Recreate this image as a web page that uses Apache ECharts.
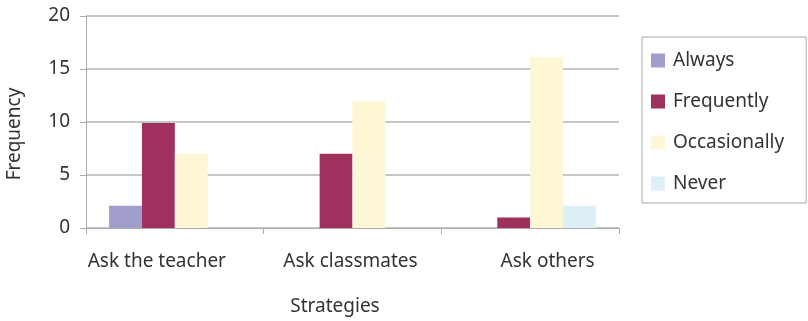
<!DOCTYPE html>
<html><head><meta charset="utf-8">
<script src="https://cdn.jsdelivr.net/npm/echarts@6/dist/echarts.min.js"></script>
<style>html,body{margin:0;padding:0;background:#fff}#c{width:808px;height:321px}</style>
</head><body><div id="c"></div>
<script>
var categories = ['Ask the teacher', 'Ask classmates', 'Ask others'];
var always = [2.1, 0, 0];
var frequently = [9.9, 7, 1];
var occasionally = [7, 12, 16.1];
var never = [0, 0, 2.1];
var seriesNames = ['Always', 'Frequently', 'Occasionally', 'Never'];
var colors = ['#a09fcc', '#a0305e', '#fdf7d5', '#ddeff7'];
var yTicks = [0, 5, 10, 15, 20];

var FONT = 'Noto Sans';
var FS = 19;
var chart = echarts.init(document.getElementById('c'), null, {renderer: 'canvas'});
var labelPads = [[0, 36, 0, 0], [0, 4, 0, 0], [0, 0, 0, 35]];
function mk(name, data, i) {
  return {name: name, type: 'bar', data: data, itemStyle: {color: colors[i]},
    barGap: '0%', barCategoryGap: '26%'};
}
chart.setOption({
  animation: false,
  textStyle: {fontFamily: FONT},
  grid: {left: 86, right: 189, top: 16, bottom: 93},
  legend: {
    orient: 'vertical', left: 642, top: 37,
    data: seriesNames, itemWidth: 14, itemHeight: 14, itemGap: 22,
    icon: 'rect', borderColor: '#aaaaaa', borderWidth: 1,
    padding: [14, 22, 10, 9],
    textStyle: {fontSize: FS, color: '#333', fontFamily: FONT, padding: [0, 0, 0, 3]}
  },
  xAxis: {
    type: 'category',
    data: categories.map(function (c, i) { return {value: c, textStyle: {padding: labelPads[i]}}; }),
    axisLine: {lineStyle: {color: '#aaaaaa', width: 1}},
    axisTick: {show: true, length: 6, interval: 0, lineStyle: {color: '#aaaaaa'}},
    axisLabel: {fontSize: FS, color: '#333', margin: 24, interval: 0, hideOverlap: false, fontFamily: FONT}
  },
  yAxis: {
    type: 'value', min: yTicks[0], max: yTicks[yTicks.length - 1], interval: 5,
    axisLine: {show: true, lineStyle: {color: '#aaaaaa'}},
    axisTick: {show: true, length: 6, lineStyle: {color: '#aaaaaa'}},
    splitLine: {lineStyle: {color: '#b3b3b3', width: 1.5}},
    axisLabel: {fontSize: FS, color: '#333', margin: 16, fontFamily: FONT}
  },
  graphic: [
    {type: 'text', x: 335, y: 307, style: {text: 'Strategies', fontSize: FS, fill: '#333', fontFamily: FONT, textAlign: 'center', textVerticalAlign: 'middle'}},
    {type: 'text', x: 15, y: 134, rotation: Math.PI / 2, style: {text: 'Frequency', fontSize: FS, fill: '#333', fontFamily: FONT, textAlign: 'center', textVerticalAlign: 'middle'}}
  ],
  series: [mk(seriesNames[0], always, 0), mk(seriesNames[1], frequently, 1), mk(seriesNames[2], occasionally, 2), mk(seriesNames[3], never, 3)]
});
</script></body></html>
